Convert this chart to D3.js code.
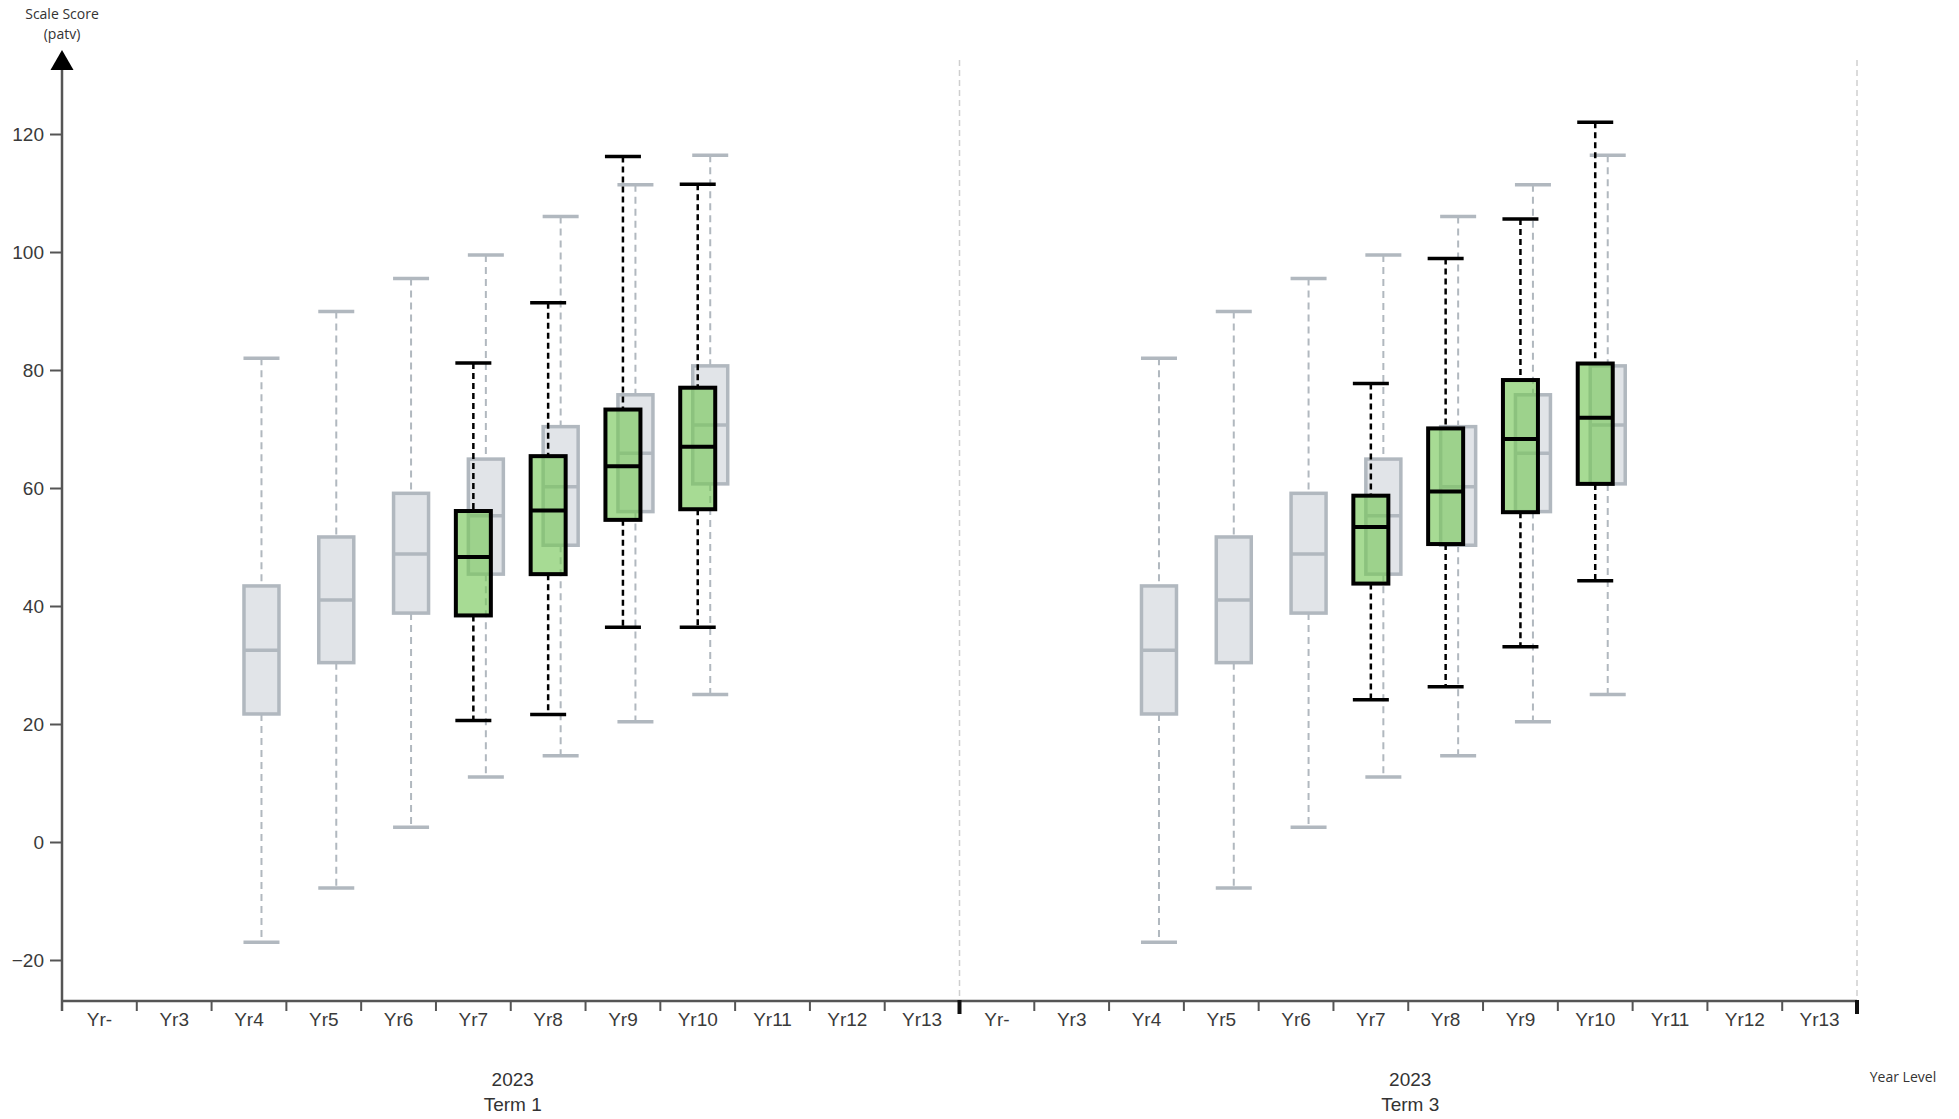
<!DOCTYPE html>
<html>
<head>
<meta charset="utf-8">
<script src="https://cdn.jsdelivr.net/npm/d3@7"></script>
<style>
  html, body { margin: 0; padding: 0; background: #fff; }
  svg { display: block; }
</style>
</head>
<body>
<svg id="chart" width="1959" height="1119"></svg>
<script>
// ---------- data ----------
const termYears = ["2023", "2023"];
const termNames = ["Term 1", "Term 3"];
const yearLevels = ["Yr-", "Yr3", "Yr4", "Yr5", "Yr6", "Yr7", "Yr8", "Yr9", "Yr10", "Yr11", "Yr12", "Yr13"];
const yTicks = [-20, 0, 20, 40, 60, 80, 100, 120];

// reference (grey) distribution, identical in both terms
const refYears  = ["Yr4", "Yr5", "Yr6", "Yr7", "Yr8", "Yr9", "Yr10"];
const refMin    = [-17.0, -7.8, 2.5, 11.0, 14.6, 20.4, 25.0];
const refQ1     = [21.7, 30.4, 38.8, 45.4, 50.3, 56.0, 60.7];
const refMedian = [32.5, 41.0, 48.8, 55.3, 60.2, 65.9, 70.7];
const refQ3     = [43.4, 51.7, 59.1, 64.9, 70.4, 75.8, 80.7];
const refMax    = [82.0, 89.9, 95.5, 99.5, 106.0, 111.4, 116.4];

// student (green) results per term
const grpYears   = ["Yr7", "Yr8", "Yr9", "Yr10"];
const t1Min      = [20.6, 21.6, 36.4, 36.4];
const t1Q1       = [38.4, 45.4, 54.6, 56.4];
const t1Median   = [48.3, 56.2, 63.7, 67.0];
const t1Q3       = [56.1, 65.4, 73.3, 77.0];
const t1Max      = [81.2, 91.4, 116.2, 111.5];

const t3Min      = [24.1, 26.3, 33.1, 44.3];
const t3Q1       = [43.8, 50.5, 55.9, 60.7];
const t3Median   = [53.4, 59.4, 68.3, 71.9];
const t3Q3       = [58.7, 70.1, 78.3, 81.1];
const t3Max      = [77.7, 98.9, 105.6, 122.0];

// ---------- build records ----------
const termKeys = termNames.map((n, i) => termYears[i] + " " + n);
const refBoxes = [];
termKeys.forEach(t => refYears.forEach((yr, i) => refBoxes.push({
  term: t, year: yr, min: refMin[i], q1: refQ1[i], med: refMedian[i], q3: refQ3[i], max: refMax[i]
})));
const grpBoxes = [];
[[t1Min, t1Q1, t1Median, t1Q3, t1Max], [t3Min, t3Q1, t3Median, t3Q3, t3Max]].forEach((s, ti) =>
  grpYears.forEach((yr, i) => grpBoxes.push({
    term: termKeys[ti], year: yr, min: s[0][i], q1: s[1][i], med: s[2][i], q3: s[3][i], max: s[4][i]
  })));

// ---------- layout ----------
const PL = 62, PR = 1857, PT = 70, PB = 1001;
const svg = d3.select("#chart");
const FONT = "'Liberation Sans', Arial, sans-serif";
const SMALL = "'Open Sans', 'Noto Sans', sans-serif";

const xTerm = d3.scaleBand().domain(termKeys).range([PL, PR]).padding(0);
const xYear = d3.scaleBand().domain(yearLevels).range([0, xTerm.bandwidth()]).padding(0);
const y = d3.scaleLinear().domain([-26.95, 130.85]).range([PB, PT]);

const cx = d => xTerm(d.term) + xYear(d.year) + xYear.bandwidth() / 2;
const refOffset = 12.5;
const boxW = 35, capW = 36;

// separators (dashed)
svg.append("g").selectAll("line").data(termKeys).join("line")
  .attr("x1", d => xTerm(d) + xTerm.bandwidth()).attr("x2", d => xTerm(d) + xTerm.bandwidth())
  .attr("y1", 60).attr("y2", PB)
  .attr("stroke", "#cfcfcf").attr("stroke-width", 1.5).attr("stroke-dasharray", "6,4");

// ---------- y axis ----------
const yAxis = svg.append("g").attr("transform", `translate(${PL},0)`)
  .call(d3.axisLeft(y).tickValues(yTicks).tickSize(12).tickPadding(6));
yAxis.select(".domain").remove();
yAxis.selectAll(".tick line").attr("stroke", "#555").attr("stroke-width", 2);
yAxis.selectAll(".tick text").attr("fill", "#3a3a3a").style("font-family", FONT).style("font-size", "19px");

svg.append("line").attr("x1", PL).attr("x2", PL).attr("y1", PT).attr("y2", PB + 10)
  .attr("stroke", "#555").attr("stroke-width", 2.5);
svg.append("path")
  .attr("d", `M${PL},50 L${PL - 11.5},${PT} L${PL + 11.5},${PT} Z`)
  .attr("fill", "#000");

svg.append("text").attr("x", PL).attr("y", 19).attr("text-anchor", "middle")
  .style("font-family", SMALL).style("font-size", "14px").attr("fill", "#333").text("Scale Score");
svg.append("text").attr("x", PL).attr("y", 39).attr("text-anchor", "middle")
  .style("font-family", SMALL).style("font-size", "14px").attr("fill", "#333").text("(patv)");

// ---------- x axis ----------
svg.append("line").attr("x1", PL).attr("x2", PR).attr("y1", PB).attr("y2", PB)
  .attr("stroke", "#555").attr("stroke-width", 2.5);

termKeys.forEach((t, ti) => {
  const g = svg.append("g").attr("transform", `translate(${xTerm(t)},${PB})`);
  const ax = d3.axisBottom(xYear).tickSize(0).tickPadding(12);
  g.call(ax);
  g.select(".domain").remove();
  g.selectAll(".tick text").attr("fill", "#3a3a3a").style("font-family", FONT).style("font-size", "19px");
  // boundary ticks
  g.selectAll("line.bt").data(yearLevels).join("line").attr("class", "bt")
    .attr("x1", d => xYear(d)).attr("x2", d => xYear(d))
    .attr("y1", 0).attr("y2", 10).attr("stroke", "#555").attr("stroke-width", 2);
  // term labels
  const mid = xTerm.bandwidth() / 2;
  g.append("text").attr("x", mid + 2).attr("y", 85).attr("text-anchor", "middle")
    .attr("fill", "#333").style("font-family", FONT).style("font-size", "19px").text(termYears[ti]);
  g.append("text").attr("x", mid + 2).attr("y", 110).attr("text-anchor", "middle")
    .attr("fill", "#333").style("font-family", FONT).style("font-size", "19px").text(termNames[ti]);
});
// thick separator ticks
svg.append("g").selectAll("line").data(termKeys).join("line")
  .attr("x1", d => xTerm(d) + xTerm.bandwidth()).attr("x2", d => xTerm(d) + xTerm.bandwidth())
  .attr("y1", PB - 1).attr("y2", PB + 13)
  .attr("stroke", "#111").attr("stroke-width", 4);

svg.append("text").attr("x", 1903).attr("y", 1082).attr("text-anchor", "middle")
  .style("font-family", SMALL).style("font-size", "14px").attr("fill", "#333").text("Year Level");

// ---------- reference (grey) boxes ----------
const greyStroke = "#b1b8bf", greyFill = "#e1e4e8";
const gr = svg.append("g");
const rx = d => cx(d) + refOffset;
gr.selectAll("line.wl").data(refBoxes).join("line").attr("class", "wl")
  .attr("x1", rx).attr("x2", rx).attr("y1", d => y(d.max)).attr("y2", d => y(d.q3))
  .attr("stroke", greyStroke).attr("stroke-width", 2).attr("stroke-dasharray", "7,5");
gr.selectAll("line.wh").data(refBoxes).join("line").attr("class", "wh")
  .attr("x1", rx).attr("x2", rx).attr("y1", d => y(d.q1)).attr("y2", d => y(d.min))
  .attr("stroke", greyStroke).attr("stroke-width", 2).attr("stroke-dasharray", "7,5");
gr.selectAll("line.cmax").data(refBoxes).join("line").attr("class", "cmax")
  .attr("x1", d => rx(d) - capW / 2).attr("x2", d => rx(d) + capW / 2)
  .attr("y1", d => y(d.max)).attr("y2", d => y(d.max))
  .attr("stroke", greyStroke).attr("stroke-width", 3.5);
gr.selectAll("line.cmin").data(refBoxes).join("line").attr("class", "cmin")
  .attr("x1", d => rx(d) - capW / 2).attr("x2", d => rx(d) + capW / 2)
  .attr("y1", d => y(d.min)).attr("y2", d => y(d.min))
  .attr("stroke", greyStroke).attr("stroke-width", 3.5);
gr.selectAll("rect").data(refBoxes).join("rect")
  .attr("x", d => rx(d) - boxW / 2).attr("width", boxW)
  .attr("y", d => y(d.q3)).attr("height", d => y(d.q1) - y(d.q3))
  .attr("fill", greyFill).attr("stroke", greyStroke).attr("stroke-width", 3.5);
gr.selectAll("line.med").data(refBoxes).join("line").attr("class", "med")
  .attr("x1", d => rx(d) - boxW / 2).attr("x2", d => rx(d) + boxW / 2)
  .attr("y1", d => y(d.med)).attr("y2", d => y(d.med))
  .attr("stroke", greyStroke).attr("stroke-width", 3.5);

// ---------- group (green) boxes ----------
const gg = svg.append("g");
gg.selectAll("line.wl").data(grpBoxes).join("line").attr("class", "wl")
  .attr("x1", cx).attr("x2", cx).attr("y1", d => y(d.max)).attr("y2", d => y(d.q3))
  .attr("stroke", "#000").attr("stroke-width", 2.5).attr("stroke-dasharray", "6,4");
gg.selectAll("line.wh").data(grpBoxes).join("line").attr("class", "wh")
  .attr("x1", cx).attr("x2", cx).attr("y1", d => y(d.q1)).attr("y2", d => y(d.min))
  .attr("stroke", "#000").attr("stroke-width", 2.5).attr("stroke-dasharray", "6,4");
gg.selectAll("line.cmax").data(grpBoxes).join("line").attr("class", "cmax")
  .attr("x1", d => cx(d) - capW / 2).attr("x2", d => cx(d) + capW / 2)
  .attr("y1", d => y(d.max)).attr("y2", d => y(d.max))
  .attr("stroke", "#000").attr("stroke-width", 3.5);
gg.selectAll("line.cmin").data(grpBoxes).join("line").attr("class", "cmin")
  .attr("x1", d => cx(d) - capW / 2).attr("x2", d => cx(d) + capW / 2)
  .attr("y1", d => y(d.min)).attr("y2", d => y(d.min))
  .attr("stroke", "#000").attr("stroke-width", 3.5);
gg.selectAll("rect").data(grpBoxes).join("rect")
  .attr("x", d => cx(d) - boxW / 2).attr("width", boxW)
  .attr("y", d => y(d.q3)).attr("height", d => y(d.q1) - y(d.q3))
  .attr("fill", "rgb(120,200,90)").attr("fill-opacity", 0.65)
  .attr("stroke", "#000").attr("stroke-width", 4);
gg.selectAll("line.med").data(grpBoxes).join("line").attr("class", "med")
  .attr("x1", d => cx(d) - boxW / 2).attr("x2", d => cx(d) + boxW / 2)
  .attr("y1", d => y(d.med)).attr("y2", d => y(d.med))
  .attr("stroke", "#000").attr("stroke-width", 4);
</script>
</body>
</html>
